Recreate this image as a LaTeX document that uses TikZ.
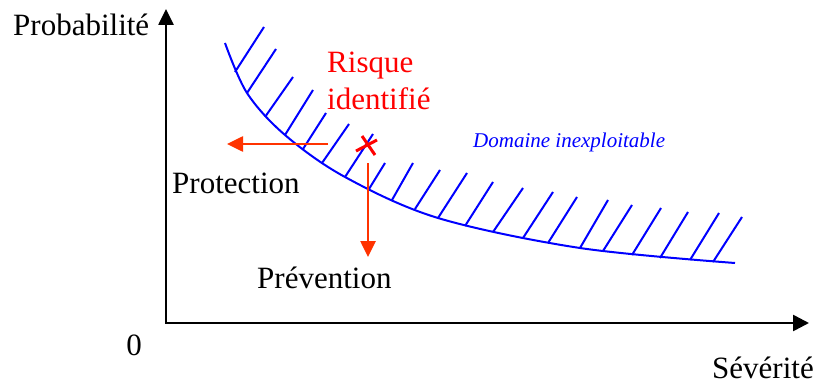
\documentclass[tikz,border=0pt]{standalone}
\usepackage{fontspec}
\setmainfont{Liberation Serif}
\usetikzlibrary{arrows.meta}
\definecolor{arrowred}{RGB}{255,51,0}
\definecolor{riskred}{RGB}{255,0,0}
\definecolor{zoneblue}{RGB}{0,0,255}
\tikzset{
  axisline/.style={line width=2.6pt, line join=miter, {Triangle[length=16pt,width=15pt]}-{Triangle[length=16pt,width=16pt]}},
  actarrow/.style={arrowred, line width=2.6pt, -{Triangle[length=16pt,width=15pt]}},
  curveline/.style={zoneblue, line width=2pt},
  hatchline/.style={zoneblue, line width=2pt},
  bigtext/.style={inner sep=0pt, anchor=base west, font=\fontsize{31}{37}\selectfont},
  risktext/.style={bigtext, text=riskred},
  zonetext/.style={inner sep=0pt, anchor=base west, text=zoneblue, font=\fontsize{21}{25}\selectfont\itshape},
  crossline/.style={riskred, line width=3pt}
}
\begin{document}
\begin{tikzpicture}[x=1pt,y=-1pt]
\useasboundingbox (0,0) rectangle (816,385);
% axes
\coordinate (ytip) at (166,9);
\coordinate (orig) at (166,323);
\coordinate (xtip) at (809,323);
\draw[axisline] (ytip) -- (orig) -- (xtip);
% axis labels
\node[bigtext] (prob) at (13,36) {Probabilité};
\node[bigtext, anchor=base] (zero) at (134,355) {0};
\node[bigtext] (sev) at (712,378) {Sévérité};
% boundary curve
\draw[curveline] plot[smooth, tension=0.55] coordinates {
  (225,43) (247,93) (285,135) (345,177) (438,218) (580,248) (735,263)};
% hatching
\foreach \ax/\ay/\bx/\by in {
  235/72/264/27, 247/93/276/49, 265/117/293/77, 285/135/313/90,
  303/149/326/113, 322/163/349/124, 345/177/373/134, 369/189/385/163,
  392/200/413/163, 415/209/440/170, 438/218/467/173, 465/226/493/182,
  493/232/523/188, 523/238/553/192, 548/243/577/197, 580/248/608/200,
  603/251/632/205, 632/255/661/208, 660/258/688/212, 690/260/719/213,
  713/262/742/217}
  \draw[hatchline] (\ax,\ay) -- (\bx,\by);
% domain label
\node[zonetext] (dom) at (473,147) {Domaine inexploitable};
% identified risk
\node[risktext] (risk1) at (327,73) {Risque};
\node[risktext] (risk2) at (327,110) {identifié};
\coordinate (xa) at (356,151);
\coordinate (xb) at (377,140);
\coordinate (xc) at (362,136);
\coordinate (xd) at (375,155);
\draw[crossline] (xa) -- (xb);
\draw[crossline] (xc) -- (xd);
% protection arrow
\coordinate (protA) at (328,144);
\coordinate (protB) at (227,144);
\draw[actarrow] (protA) -- (protB);
\node[bigtext] (prot) at (172,193) {Protection};
% prevention arrow
\coordinate (prevA) at (368,163);
\coordinate (prevB) at (368,257);
\draw[actarrow] (prevA) -- (prevB);
\node[bigtext] (prev) at (257,288) {Prévention};
\end{tikzpicture}
\end{document}
